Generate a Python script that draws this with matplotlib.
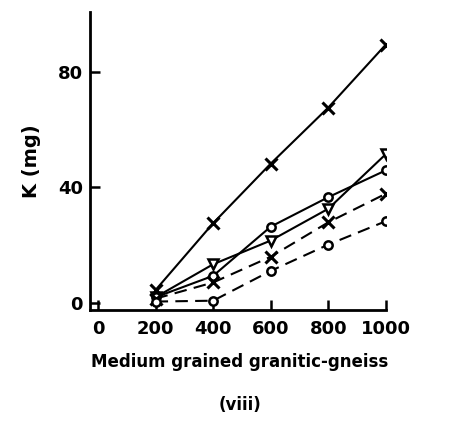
import matplotlib
matplotlib.use("Agg")
import matplotlib.pyplot as plt

# applied load / fraction axis
x = [200, 400, 600, 800, 1000]

# K released (mg)
k_cross_solid = [4.5, 27.6, 48.2, 67.6, 89.4]
k_tri_solid = [2.0, 13.4, 21.6, 32.6, 51.5]
k_circ_solid = [2.0, 9.4, 26.4, 36.6, 45.9]
k_cross_dash = [1.5, 7.1, 16.0, 27.9, 37.8]
k_circ_dash = [0.5, 0.8, 11.1, 20.2, 28.3]

xticks = [0, 200, 400, 600, 800, 1000]
yticks = [0, 40, 80]

plt.rcParams["font.family"] = "DejaVu Sans"
plt.rcParams["font.weight"] = "bold"

fig = plt.figure(figsize=(4.66, 4.24), dpi=100)
ax = fig.add_axes([0.193, 0.269, 0.635, 0.703])

lw = 1.5
dash = (0, (6, 3.5))
ax.plot(x, k_cross_solid, "k-", lw=lw, marker="x", ms=8, mew=2.2)
ax.plot(x, k_tri_solid, "k-", lw=lw, marker="v", ms=7, mew=1.8, mfc="white")
ax.plot(x, k_circ_solid, "k-", lw=lw, marker="o", ms=6, mew=1.8, mfc="white")
ax.plot(x, k_cross_dash, "k", ls=dash, lw=lw, marker="x", ms=8, mew=2.2)
ax.plot(x, k_circ_dash, "k", ls=dash, lw=lw, marker="o", ms=6, mew=1.8, mfc="white")

ax.set_xlim(-28, 1000)
ax.set_ylim(-2.4, 100.7)
ax.set_xticks(xticks)
ax.set_yticks(yticks)
ax.tick_params(direction="in", length=7, width=1.8, labelsize=13, pad=5)
ax.tick_params(axis="x", pad=7)
for s in ("top", "right"):
    ax.spines[s].set_visible(False)
for s in ("left", "bottom"):
    ax.spines[s].set_linewidth(2)

ax.set_ylabel("K (mg)", fontsize=14, fontweight="bold", labelpad=12)
fig.text(0.515, 0.146, "Medium grained granitic-gneiss", ha="center",
         va="center", fontsize=12, fontweight="bold")
fig.text(0.515, 0.045, "(viii)", ha="center", va="center", fontsize=12,
         fontweight="bold")

fig.savefig("out.png", dpi=100)
